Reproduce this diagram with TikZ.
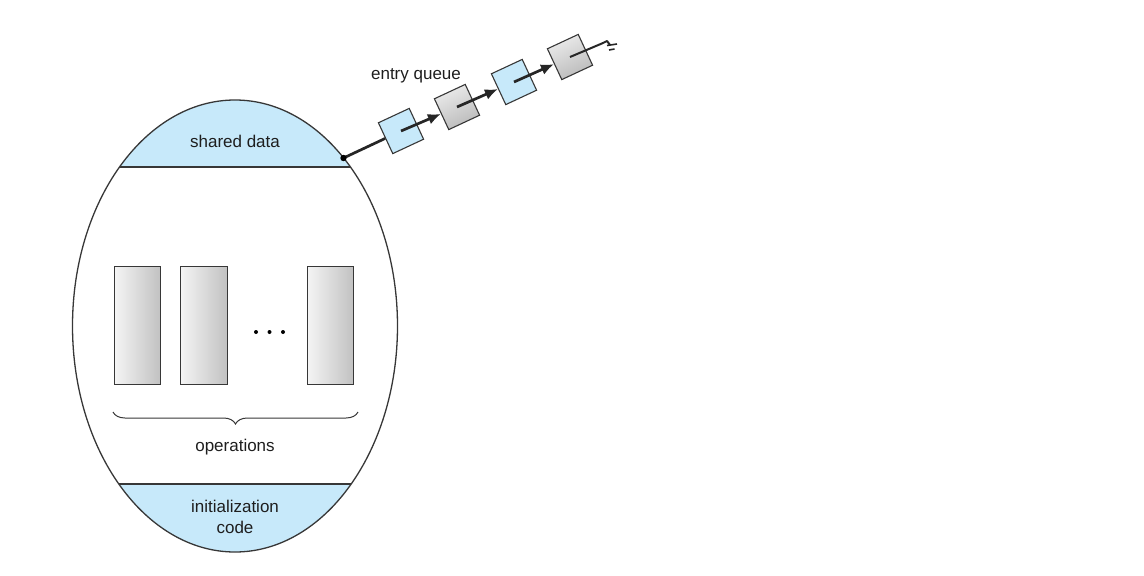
\documentclass[tikz,border=0pt]{standalone}
\usepackage{fontspec}
\setmainfont{Liberation Sans}
\usetikzlibrary{arrows.meta,decorations.pathreplacing,calc,shapes.geometric}
\definecolor{lblue}{RGB}{199,233,250}
\definecolor{edge}{RGB}{55,55,55}
\definecolor{txt}{RGB}{30,30,30}
\tikzset{
  lbl/.style={font=\fontsize{17}{21}\selectfont, text=txt, align=center, inner sep=0pt},
  oprect/.style={draw=edge, line width=1pt, left color=gray!8, right color=gray!48},
  qblue/.style={draw=edge, line width=1.1pt, fill=lblue, minimum size=34pt, inner sep=0pt, rotate=25},
  qgray/.style={draw=edge, line width=1.1pt, left color=gray!15, right color=gray!55, minimum size=34pt, inner sep=0pt, rotate=25, shading angle=25},
  qline/.style={line width=2.7pt, black!85},
  qarrow/.style={qline, -{Latex[length=13pt,width=11pt]}},
}
\begin{document}
\begin{tikzpicture}[x=1pt,y=-1pt]
\useasboundingbox (0,0) rectangle (1144,576);
% filled caps
\begin{scope}
  \clip (235,326) ellipse [x radius=162.5, y radius=226];
  \fill[lblue] (60,90) rectangle (410,167);
  \fill[lblue] (60,484) rectangle (410,560);
  \draw[edge, line width=1.8pt] (60,167) -- (410,167);
  \draw[edge, line width=1.3pt] (60,484) -- (410,484);
\end{scope}
\node[draw=edge, line width=1.3pt, ellipse, minimum width=325pt, minimum height=452pt, inner sep=0pt] (mon) at (235,326) {};
\node[lbl] (sd) at (235,141) {shared data};
\node[lbl] (ic) at (235,517) {initialization\\code};
% operations
\path[oprect] (114,266) rectangle (160,384);
\path[oprect] (180,266) rectangle (227,384);
\path[oprect] (307,266) rectangle (353,384);
\fill[black] (256,332) circle (2) (269.5,332) circle (2) (283,332) circle (2);
\draw[edge, line width=1pt, decorate, decoration={brace, amplitude=12pt, mirror}] (113,412) -- (358,412);
\node[lbl] (ops) at (235,447) {operations};
% queue
\coordinate (dot) at (343.5,158);
\node[qblue] (b1) at (401,131) {};
\node[qgray] (b2) at (457,107) {};
\node[qblue] (b3) at (514,82) {};
\node[qgray] (b4) at (570,57) {};
\node[lbl] (eq) at (416,76) {entry queue};
\draw[qline] (dot) -- (b1);
\fill[black] (dot) circle (3.2);
\draw[qarrow] (b1.center) -- (b2);
\draw[qarrow] (b2.center) -- (b3);
\draw[qarrow] (b3.center) -- (b4);
\coordinate (gnd) at (603,43);
\draw[line width=2pt, black!85, line join=round] (b4.center) -- (gnd) -- (607,41) -- (610,45);
\draw[line width=1.6pt, black!85] (607,45.5) -- (617,44) (609,50) -- (614.5,49);
\end{tikzpicture}
\end{document}
